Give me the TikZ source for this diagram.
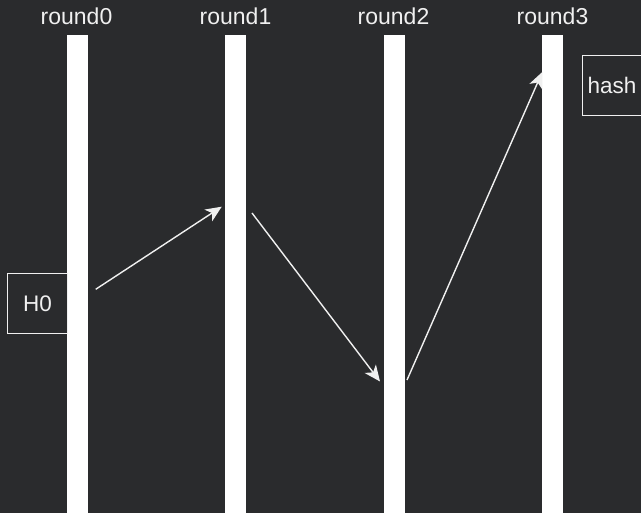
\documentclass[tikz,border=0pt]{standalone}
\usepackage{fontspec}
\setmainfont{Liberation Sans}
\usetikzlibrary{arrows.meta}
\definecolor{bg}{RGB}{42,43,45}
\definecolor{fg}{RGB}{240,240,240}
\begin{document}
\begin{tikzpicture}[x=1pt,y=-1pt,
  bar/.style={fill=white,draw=none,minimum width=21pt,minimum height=478pt,inner sep=0pt,outer sep=0pt},
  lbl/.style={text=fg,font=\fontsize{23}{26}\selectfont,inner sep=0pt,anchor=base},
  box/.style={draw=fg,line width=1pt,minimum width=59.5pt,minimum height=60pt,inner sep=0pt,text=fg,font=\fontsize{22.5}{26}\selectfont},
  conn/.style={draw=fg,line width=1.4pt,-{Stealth[length=16pt,width=14pt,inset=4.5pt]}}]
\fill[bg] (0,0) rectangle (641,513);
\useasboundingbox (0,0) rectangle (641,513);
\begin{scope}
\clip (0,0) rectangle (641,513);
\node[bar] (r0) at (77.5,274) {};
\node[bar] (r1) at (235.5,274) {};
\node[bar] (r2) at (394.5,274) {};
\node[bar] (r3) at (552.5,274) {};
\node[lbl] (l0) at (76.5,25) {round0};
\node[lbl] (l1) at (235.5,25) {round1};
\node[lbl] (l2) at (393.5,25) {round2};
\node[lbl] (l3) at (552.5,25) {round3};
\node[box] (h0) at (37.5,304) {H0};
\node[box] (hash) at (612,85.7) {hash};
\coordinate (a1s) at (95.7,289.3);
\coordinate (a1e) at (221.7,206.7);
\coordinate (a2s) at (252,213);
\coordinate (a2e) at (380,381.5);
\coordinate (a3s) at (407,380);
\coordinate (a3e) at (542.3,72);
\draw[conn] (a1s) -- (a1e);
\draw[conn] (a2s) -- (a2e);
\draw[conn] (a3s) -- (a3e);
\end{scope}
\end{tikzpicture}
\end{document}
